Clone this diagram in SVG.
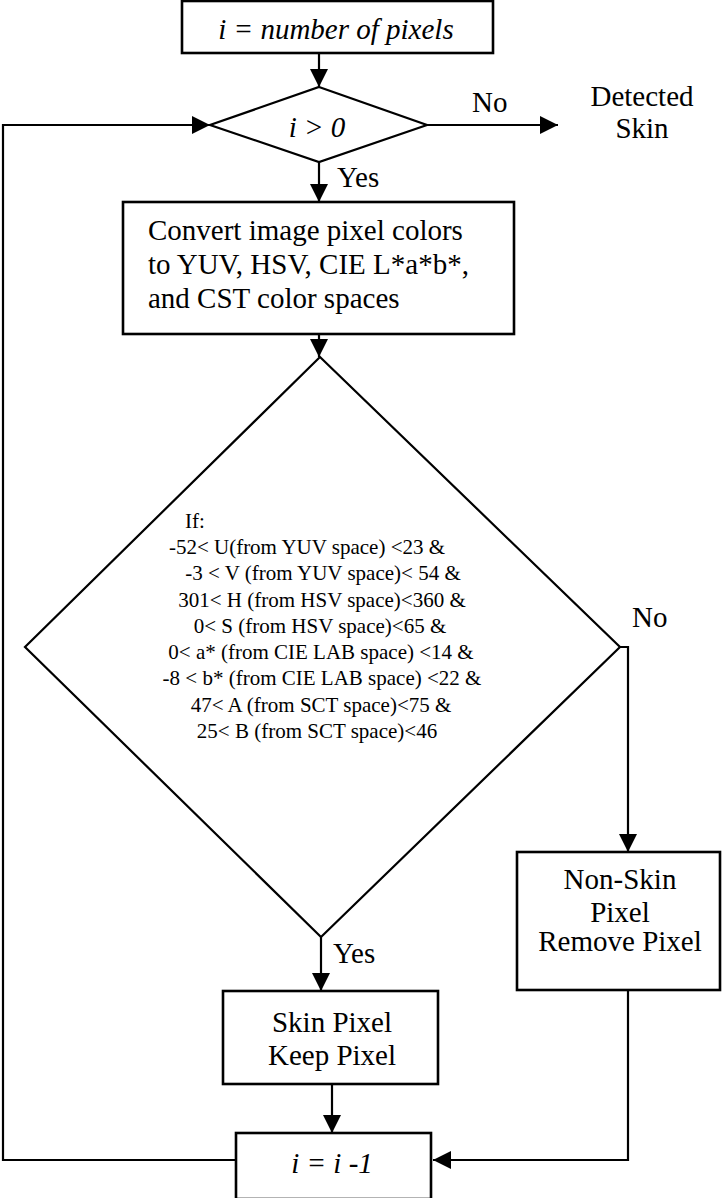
<svg xmlns="http://www.w3.org/2000/svg" width="724" height="1198" viewBox="0 0 724 1198">
<defs>
<marker id="arr" viewBox="0 0 10 10" refX="10" refY="5" markerWidth="18" markerHeight="18" markerUnits="userSpaceOnUse" orient="auto">
<path d="M0,0 L10,5 L0,10 z" fill="#000"/>
</marker>
<style>
.box{fill:#fff;stroke:#000;stroke-width:2.6}
.dia{fill:#fff;stroke:#000;stroke-width:2.2}
.ln{fill:none;stroke:#000;stroke-width:2.2}
.t{font-family:"Liberation Serif","Times New Roman",serif;font-size:29px;fill:#000}
.it{font-style:italic}
.c{text-anchor:middle}
.s{font-family:"Liberation Serif","Times New Roman",serif;font-size:21px;fill:#000;text-anchor:middle}
</style>
</defs>
<rect width="724" height="1198" fill="#fff"/>
<g id="connectors">
<line class="ln" x1="319" y1="53" x2="319" y2="87" marker-end="url(#arr)"/>
<line class="ln" x1="427" y1="125" x2="558" y2="125" marker-end="url(#arr)"/>
<line class="ln" x1="319" y1="162" x2="319" y2="202" marker-end="url(#arr)"/>
<line class="ln" x1="319" y1="334" x2="319" y2="357" marker-end="url(#arr)"/>
<polyline class="ln" points="620,647 628,647 628,852" marker-end="url(#arr)"/>
<line class="ln" x1="321" y1="937" x2="321" y2="991" marker-end="url(#arr)"/>
<line class="ln" x1="332" y1="1084" x2="332" y2="1133" marker-end="url(#arr)"/>
<polyline class="ln" points="628,990 628,1160 433,1160" marker-end="url(#arr)"/>
<polyline class="ln" points="236,1160 3,1160 3,125 210,125" marker-end="url(#arr)"/>
<text class="t" x="472" y="112">No</text>
<text class="t" x="337" y="187">Yes</text>
<text class="t" x="632" y="627">No</text>
<text class="t" x="333" y="963">Yes</text>
</g>
<g id="start">
<rect class="box" x="182" y="1" width="311" height="52"/>
<text class="t it c" x="336" y="39">i = number of pixels</text>
</g>
<g id="check">
<polygon class="dia" points="319,87 427,125 319,162 210,125"/>
<text class="t it c" x="317" y="137">i &gt; 0</text>
</g>
<g id="detected">
<text class="t c" x="642" y="106">Detected</text>
<text class="t c" x="642" y="138">Skin</text>
</g>
<g id="convert">
<rect class="box" x="123" y="202" width="391" height="132"/>
<text class="t" x="148" y="240">Convert image pixel colors</text>
<text class="t" x="148" y="274">to YUV, HSV, CIE L*a*b*,</text>
<text class="t" x="148" y="308">and CST color spaces</text>
</g>
<g id="condition">
<polygon class="dia" points="320,357 620,647 321,937 25,647"/>
<text class="s" x="185" y="528" style="text-anchor:start">If:</text>
<text class="s" x="307" y="554">-52&lt; U(from YUV space) &lt;23 &amp;</text>
<text class="s" x="323" y="580">-3 &lt; V (from YUV space)&lt; 54 &amp;</text>
<text class="s" x="322" y="607">301&lt; H (from HSV space)&lt;360 &amp;</text>
<text class="s" x="320" y="633">0&lt; S (from HSV space)&lt;65 &amp;</text>
<text class="s" x="321" y="659">0&lt; a* (from CIE LAB space) &lt;14 &amp;</text>
<text class="s" x="322" y="685">-8 &lt; b* (from CIE LAB space) &lt;22 &amp;</text>
<text class="s" x="321" y="712">47&lt; A (from SCT space)&lt;75 &amp;</text>
<text class="s" x="317" y="738">25&lt; B (from SCT space)&lt;46</text>
</g>
<g id="nonskin">
<rect class="box" x="517" y="852" width="203" height="138"/>
<text class="t c" x="620" y="889">Non-Skin</text>
<text class="t c" x="620" y="922">Pixel</text>
<text class="t c" x="620" y="951">Remove Pixel</text>
</g>
<g id="skin">
<rect class="box" x="223" y="991" width="215" height="93"/>
<text class="t c" x="332" y="1032">Skin Pixel</text>
<text class="t c" x="332" y="1065">Keep Pixel</text>
</g>
<g id="decrement">
<rect class="box" x="236" y="1133" width="195" height="66"/>
<text class="t it c" x="332" y="1173">i = i -1</text>
</g>
</svg>
